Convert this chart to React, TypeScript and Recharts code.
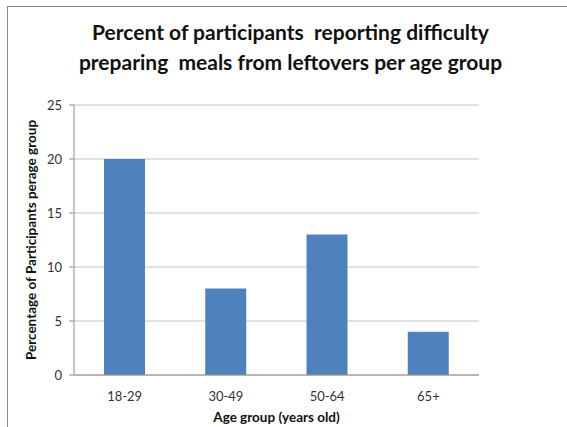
import React from "react";
import {
  BarChart,
  Bar,
  XAxis,
  YAxis,
  CartesianGrid,
} from "recharts";

const ageGroups = ["18-29", "30-49", "50-64", "65+"];
const percentValues = [20, 8, 13, 4];
const yTicks = [0, 5, 10, 15, 20, 25];
const categoryEdges = [0, 1, 2, 3, 4];

const titleLines = [
  "Percent of participants  reporting difficulty",
  "preparing  meals from leftovers per age group",
];

const data = ageGroups.map((group, i) => ({ group, value: percentValues[i] }));

const FONT = "Lato, 'Open Sans', sans-serif";
const AXIS_COLOR = "#8c8c8c";
const GRID_COLOR = "#c4c4c4";
const BAR_COLOR = "#4f81bd";

const EmptyTick = () => <g />;

export default function App() {
  return (
    <div style={{ position: "absolute", left: 0, top: 0, width: 567, height: 427, background: "#fff", overflow: "hidden" }}>
      <div
        style={{
          position: "absolute",
          left: 7,
          top: 6,
          width: 600,
          height: 500,
          border: "1px solid #8a8a8a",
          boxSizing: "border-box",
        }}
      />
      <div
        style={{
          position: "absolute",
          left: 0,
          top: 17,
          width: 567,
          textAlign: "center",
          fontFamily: FONT,
          fontWeight: 700,
          fontSize: 21,
          lineHeight: "30px",
          color: "#111",
          whiteSpace: "pre",
        }}
      >
        {titleLines.map((line) => (
          <div key={line} style={{ paddingLeft: 14 }}>{line}</div>
        ))}
      </div>
      <BarChart
        width={567}
        height={427}
        data={data}
        margin={{ top: 105, right: 88, bottom: 0, left: 0 }}
        style={{ position: "absolute", left: 0, top: 0 }}
      >
        <CartesianGrid horizontal vertical={false} stroke={GRID_COLOR} strokeWidth={1.2} />
        <XAxis
          xAxisId="edges"
          type="number"
          domain={[0, 4]}
          ticks={categoryEdges}
          height={0}
          axisLine={false}
          tickLine={{ stroke: AXIS_COLOR }}
          tickSize={5}
          tick={EmptyTick}
        />
        <XAxis
          dataKey="group"
          height={52}
          axisLine={{ stroke: AXIS_COLOR }}
          tickLine={false}
          tickMargin={11}
          tick={{ fill: "#333", fontSize: 13, fontFamily: FONT }}
          label={{
            value: "Age group (years old)",
            position: "insideBottom",
            offset: 5,
            fill: "#111",
            fontSize: 13.5,
            fontWeight: 700,
            fontFamily: FONT,
          }}
        />
        <YAxis
          width={74}
          domain={[0, 25]}
          ticks={yTicks}
          axisLine={{ stroke: AXIS_COLOR }}
          tickLine={{ stroke: AXIS_COLOR }}
          tickSize={5}
          tickMargin={7}
          tick={{ fill: "#333", fontSize: 13, fontFamily: FONT }}
          label={{
            value: "Percentage of Participants  perage group",
            angle: -90,
            position: "insideLeft",
            offset: 31,
            style: { textAnchor: "middle", whiteSpace: "pre" },
            fill: "#111",
            fontSize: 13.5,
            fontWeight: 700,
            fontFamily: FONT,
          }}
        />
        <Bar dataKey="value" fill={BAR_COLOR} barSize={41} isAnimationActive={false} />
      </BarChart>
    </div>
  );
}
